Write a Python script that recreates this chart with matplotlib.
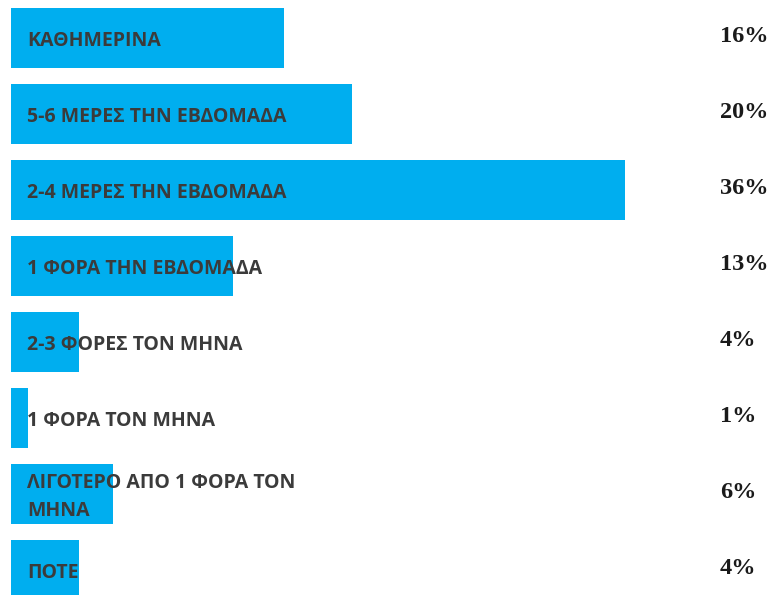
import matplotlib
matplotlib.use('Agg')
import matplotlib.pyplot as plt
import matplotlib.transforms as mtransforms

categories = [
    'ΚΑΘΗΜΕΡΙΝΑ',
    '5-6 ΜΕΡΕΣ ΤΗΝ ΕΒΔΟΜΑΔΑ',
    '2-4 ΜΕΡΕΣ ΤΗΝ ΕΒΔΟΜΑΔΑ',
    '1 ΦΟΡΑ ΤΗΝ ΕΒΔΟΜΑΔΑ',
    '2-3 ΦΟΡΕΣ ΤΟΝ ΜΗΝΑ',
    '1 ΦΟΡΑ ΤΟΝ ΜΗΝΑ',
    'ΛΙΓΟΤΕΡΟ ΑΠΟ 1 ΦΟΡΑ ΤΟΝ\nΜΗΝΑ',
    'ΠΟΤΕ',
]
values = [16, 20, 36, 13, 4, 1, 6, 4]
pct_labels = ['16%', '20%', '36%', '13%', '4%', '1%', '6%', '4%']

W, H = 772, 595
BAR_COLOR = '#00AEEF'
TEXT_COLOR = '#3b3b3b'
PX_PER_PCT = 17.05

fig = plt.figure(figsize=(W / 100, H / 100), dpi=100)
left = 11 / W
ax = fig.add_axes([left, 0, 1 - left, 1])

ys = list(range(len(categories)))
ax.barh(ys, values, height=60 / 76, color=BAR_COLOR, zorder=1)

ax.set_xlim(0, (W - 11) / PX_PER_PCT)
ax.set_ylim((H - 38) / 76, -38 / 76)
ax.axis('off')

trans = mtransforms.blended_transform_factory(ax.transAxes, ax.transData)
for y, cat, pct in zip(ys, categories, pct_labels):
    ax.annotate(cat, xy=(0, y), xytext=(11.5, -2.2), textcoords='offset points',
                va='center', ha='left', fontsize=14, fontweight='bold',
                family=['Open Sans', 'DejaVu Sans'], color=TEXT_COLOR,
                linespacing=1.55, zorder=2)
    ax.text((720 - 11) / (W - 11), y - 0.02, pct, transform=trans,
            va='center', ha='left', fontsize=17.5, fontweight='bold',
            family=['Liberation Serif', 'DejaVu Serif'], color='#1a1a1a')

fig.savefig('out.png', dpi=100, facecolor='white')
